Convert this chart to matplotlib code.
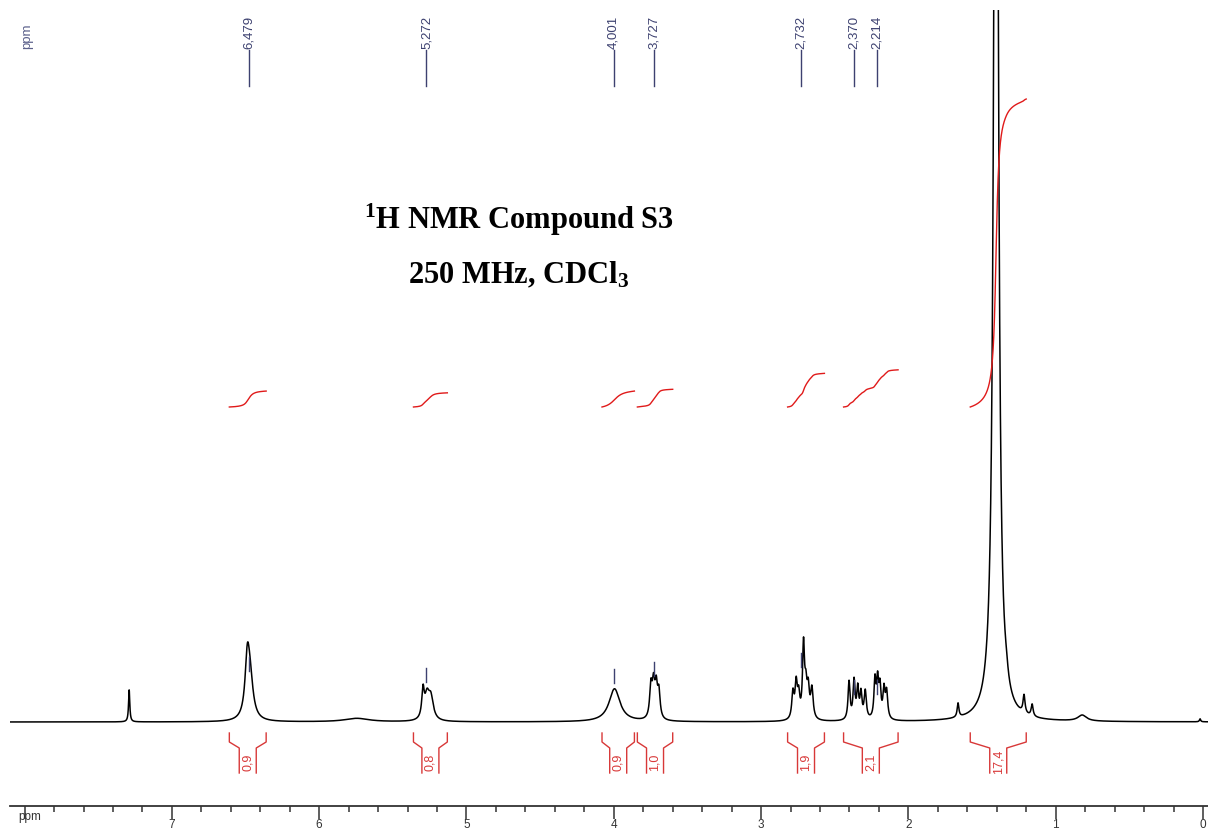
import numpy as np
import matplotlib
matplotlib.use("Agg")
import matplotlib.pyplot as plt
from matplotlib.ticker import MultipleLocator

plt.rcParams['font.family'] = ['Liberation Sans', 'DejaVu Sans']
plt.rcParams['mathtext.default'] = 'regular'

# Peak table: position (ppm), height (px above baseline), half width (ppm)
peak_ppm = [7.290, 6.488, 6.470, 5.745, 5.295, 5.268, 5.242, 3.995,
            3.748, 3.730, 3.712, 3.694,
            2.784, 2.762, 2.745, 2.712, 2.696, 2.680, 2.655,
            2.403, 2.369, 2.344, 2.322, 2.293,
            2.227, 2.209, 2.193, 2.166, 2.148,
            1.663, 1.405, 1.335, 1.215, 1.160, 0.820, 0.020]
peak_height = [32, 52, 40, 3.5, 28, 22, 22, 33,
               32, 32, 30, 26,
               26, 34, 22, 72, 28, 28, 30,
               38, 38, 30, 25, 28,
               38, 36, 30, 28, 27,
               14, 1500, 8, 18, 12, 6, 3]
peak_width = [0.005, 0.018, 0.025, 0.10, 0.010, 0.018, 0.020, 0.045,
              0.010, 0.010, 0.010, 0.010,
              0.009, 0.009, 0.009, 0.008, 0.009, 0.009, 0.010,
              0.008, 0.008, 0.008, 0.008, 0.009,
              0.008, 0.008, 0.008, 0.008, 0.009,
              0.007, 0.015, 0.015, 0.008, 0.008, 0.035, 0.005]

# Picked peak labels at the top
label_ppm = [6.479, 5.272, 4.001, 3.727, 2.732, 2.370, 2.214]
label_text = ["6,479", "5,272", "4,001", "3,727", "2,732", "2,370", "2,214"]
marker_top = [65, 54, 53, 60, 69, 42, 42]

# Integral regions (ppm) and values
int_left = [6.61, 5.36, 4.08, 3.84, 2.82, 2.44, 1.58]
int_right = [6.36, 5.13, 3.86, 3.60, 2.57, 2.07, 1.20]
int_value = [0.9, 0.8, 0.9, 1.0, 1.9, 2.1, 17.4]
int_text = ["0,9", "0,8", "0,9", "1,0", "1,9", "2,1", "17,4"]

# Axis ticks
tick_ppm = [8, 7, 6, 5, 4, 3, 2, 1, 0]
tick_text = ["", "7", "6", "5", "4", "3", "2", "1", "0"]

navy = '#3d4170'
red_int = '#e01a1a'
red_br = '#d83838'

fig = plt.figure(figsize=(12.08, 8.32), dpi=100)
ax = fig.add_axes([10 / 1208, 26 / 832, 1198 / 1208, 796 / 832])
x_left, x_right = 8.099, -0.034
ax.set_xlim(x_left, x_right)
ax.set_ylim(-84, 712)
px = (x_left - x_right) / 1198  # ppm per pixel

# Spectrum as sum of lorentzian lines
ppm = np.linspace(8.1, -0.04, 40000)
spec = np.zeros_like(ppm)
for p, h, w in zip(peak_ppm, peak_height, peak_width):
    spec += h / (1 + ((ppm - p) / w) ** 2)
ax.plot(ppm, spec, color='black', lw=1.1)

# Integral curves and brackets
for left, right, val, txt in zip(int_left, int_right, int_value, int_text):
    mask = (ppm <= left) & (ppm >= right)
    cum = np.cumsum(spec[mask])
    cum = cum / cum[-1] * val * 17.7 + 315
    ax.plot(ppm[mask], cum, color=red_int, lw=1.0)

    xc = (left + right) / 2
    d = 8.5 * px
    ax.plot([left, left, xc + d, xc + d], [-11, -20, -26, -51], color=red_br, lw=1.0)
    ax.plot([right, right, xc - d, xc - d], [-11, -20, -26, -51], color=red_br, lw=1.0)
    ax.text(xc, -40, txt, rotation=90, ha='center', va='center', fontsize=9, color=red_br)

# Peak labels at the top and the small markers on the peaks
for p, txt, top in zip(label_ppm, label_text, marker_top):
    ax.plot([p, p], [722 - 86, 722 - 50], color=navy, lw=1.0)
    ax.text(p, 722 - 49, txt, rotation=90, ha='center', va='bottom', fontsize=9.5, color=navy)
    ax.plot([p, p], [top - 14, top], color=navy, lw=1.0)
ax.text(x_left - 17 * px, 722 - 49, "ppm", rotation=90, ha='center', va='bottom',
        fontsize=9.5, color='#5a5f8a')

# Bottom axis
for side in ['top', 'left', 'right']:
    ax.spines[side].set_visible(False)
ax.spines['bottom'].set_color('#333333')
ax.spines['bottom'].set_linewidth(1.3)
ax.set_yticks([])
ax.set_xticks(tick_ppm)
ax.set_xticklabels(tick_text)
ax.xaxis.set_minor_locator(MultipleLocator(0.2))
ax.tick_params(axis='x', which='major', length=9.5, width=1.1, colors='#333333',
               labelsize=8.5, pad=0)
ax.tick_params(axis='x', which='minor', length=4, width=1.1, colors='#333333')
ax.text(8.0 - 5 * px, -95, "ppm", ha='center', va='center', fontsize=8.5,
        color='#333333', clip_on=False)

# Title block
fig.text(519 / 1208, 1 - 229 / 832, "$^{1}$H NMR Compound S3", ha='center', va='baseline',
         fontsize=22, fontweight='bold', family='Liberation Serif')
fig.text(519 / 1208, 1 - 283 / 832, "250 MHz, CDCl$_{3}$", ha='center', va='baseline',
         fontsize=22, fontweight='bold', family='Liberation Serif')

fig.savefig("out.png", dpi=100)
